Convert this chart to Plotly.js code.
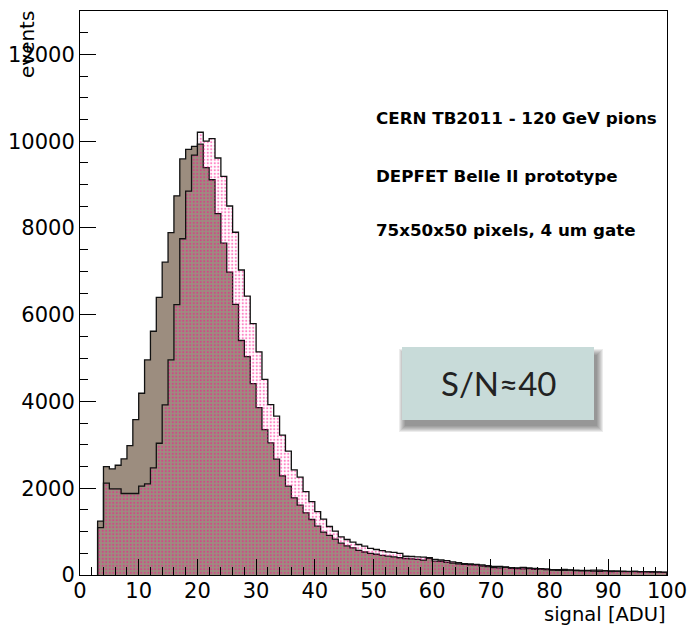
<!DOCTYPE html>
<html>
<head>
<meta charset="utf-8">
<script src="https://cdn.plot.ly/plotly-3.0.1.min.js"></script>
<style>
  html, body { margin: 0; padding: 0; background: #ffffff; }
  #chart { width: 689px; height: 627px; }
</style>
</head>
<body>
<div id="chart"></div>
<script>
// Histogram binning: 1 ADU wide bins, first bin starts at 3 ADU, last ends at 100 ADU
const binStart = 3;
const binWidth = 1;

// Grey-brown filled histogram (bins 3..99)
const filledCounts = [
  1240, 2500, 2446, 2530, 2676, 2983, 3583, 4189, 4957, 5618,
  6401, 7210, 7890, 8740, 9590, 9810, 9880, 9930, 9390, 9110,
  8330, 7650, 6980, 6240, 5405, 5035, 4410, 3860, 3352, 3045,
  2670, 2285, 2047, 1778, 1612, 1432, 1279, 1125, 990, 915,
  826, 734, 672, 626, 568, 530, 500, 478, 453, 434,
  418, 398, 380, 372, 362, 345, 398, 322, 312, 292,
  276, 258, 244, 236, 226, 205, 192, 172, 162, 178,
  156, 150, 142, 147, 132, 136, 126, 115, 110, 106,
  112, 100, 96, 101, 91, 86, 95, 81, 86, 78,
  76, 81, 72, 70, 68, 66, 60
];

// Magenta dotted histogram (bins 3..99)
const dottedCounts = [
  1090, 2116, 1985, 1985, 1878, 1878, 1878, 2047, 2100, 2469,
  3037, 3921, 4957, 6232, 7750, 8848, 9680, 10205, 10000, 10060,
  9612, 9190, 8505, 7900, 7030, 6430, 5795, 5145, 4510, 3928,
  3660, 3225, 2853, 2423, 2258, 1924, 1693, 1462, 1290, 1118,
  1010, 879, 818, 756, 703, 664, 615, 588, 560, 534,
  520, 498, 432, 426, 420, 412, 392, 362, 346, 331,
  302, 282, 262, 256, 246, 230, 214, 201, 198, 186,
  171, 166, 176, 161, 151, 149, 141, 126, 121, 131,
  116, 111, 108, 104, 111, 114, 100, 94, 90, 88,
  85, 84, 80, 78, 75, 70, 65
];

// Axis tick values
const xTicks = [0, 10, 20, 30, 40, 50, 60, 70, 80, 90, 100];
const yTicks = [0, 2000, 4000, 6000, 8000, 10000, 12000];

// Text drawn on the canvas
const infoLines = [
  'CERN TB2011 - 120 GeV pions',
  'DEPFET Belle II prototype',
  '75x50x50 pixels, 4 um gate'
];
const snLabel = 'S/N\u224840';

// Figure geometry
const W = 689, H = 627;
const M = { l: 80, r: 22, t: 11, b: 52 };
const plotW = W - M.l - M.r, plotH = H - M.t - M.b;
const px = v => (v - M.l) / plotW;           // pixel x -> paper x
const py = v => (H - M.b - v) / plotH;       // pixel y -> paper y

// Build a closed step outline (ROOT "hist" style) from bin contents
function stepOutline(counts) {
  const x = [binStart], y = [0];
  counts.forEach((c, i) => { x.push(binStart + i * binWidth); y.push(c); });
  x.push(binStart + counts.length * binWidth); y.push(0);
  return { x, y };
}

const sFilled = stepOutline(filledCounts);
const sDotted = stepOutline(dottedCounts);

const traces = [
  {
    type: 'scatter', mode: 'lines',
    x: sFilled.x, y: sFilled.y,
    line: { shape: 'hv', color: '#111111', width: 1.3 },
    fill: 'tozeroy', fillcolor: '#9c8d7f',
    hoverinfo: 'skip', showlegend: false
  },
  {
    type: 'scatter', mode: 'lines',
    x: sDotted.x, y: sDotted.y,
    line: { shape: 'hv', color: '#111111', width: 1.3 },
    fill: 'tozeroy', fillcolor: 'rgba(0,0,0,0)',
    fillpattern: {
      shape: '.', fgcolor: '#ff0a8c', bgcolor: 'rgba(0,0,0,0)',
      size: 3.5, solidity: 0.32, fillmode: 'overlay'
    },
    hoverinfo: 'skip', showlegend: false
  }
];

const sansFamily = 'DejaVu Sans, Liberation Sans, Arial, sans-serif';
const tickFont = { family: sansFamily, size: 21, color: '#000000' };
const titleFont = { family: sansFamily, size: 19.5, color: '#000000' };

// Soft drop shadow for the S/N box, built from stacked translucent rectangles
const box = { x0: 402, x1: 594, y0: 347, y1: 420 };
const shapes = [];
const shOff = { dx: 3, dy: 6 };
for (let k = 6; k >= 0; k--) {
  shapes.push({
    type: 'rect', xref: 'paper', yref: 'paper', layer: 'above',
    x0: px(box.x0 + shOff.dx - k), x1: px(box.x1 + shOff.dx + k),
    y0: py(box.y1 + shOff.dy + k), y1: py(box.y0 + shOff.dy + 2 - k),
    fillcolor: '#2a2a2a', opacity: 0.09, line: { width: 0 }
  });
}
shapes.push({
  type: 'rect', xref: 'paper', yref: 'paper', layer: 'above',
  x0: px(box.x0), x1: px(box.x1), y0: py(box.y1), y1: py(box.y0),
  fillcolor: '#c8dbd9', line: { width: 0 }
});

const annotations = [
  {
    text: 'events', xref: 'paper', yref: 'paper',
    x: px(27), y: py(45), xanchor: 'center', yanchor: 'middle',
    textangle: -90, showarrow: false,
    font: { family: sansFamily, size: 20, color: '#000000' }
  },
  {
    text: 'signal [ADU]', xref: 'paper', yref: 'paper',
    x: 1, y: py(627), xanchor: 'right', yanchor: 'bottom', borderpad: 0,
    showarrow: false, font: titleFont
  },
  {
    text: snLabel, xref: 'paper', yref: 'paper',
    x: px((box.x0 + box.x1) / 2), y: py((box.y0 + box.y1) / 2),
    xanchor: 'center', yanchor: 'middle', showarrow: false,
    font: { family: 'Lato, Open Sans, sans-serif', size: 33, color: '#222222' }
  }
];
const infoY = [118, 176, 230];
infoLines.forEach((t, i) => annotations.push({
  text: '<b>' + t + '</b>', xref: 'paper', yref: 'paper',
  x: px(374), y: py(infoY[i]), xanchor: 'left', yanchor: 'middle',
  showarrow: false,
  font: { family: sansFamily, size: 16.7, color: '#000000' }
}));

const layout = {
  width: W, height: H,
  margin: M,
  paper_bgcolor: '#ffffff', plot_bgcolor: '#ffffff',
  showlegend: false,
  xaxis: {
    range: [0, 100], tickmode: 'array', tickvals: xTicks,
    ticktext: xTicks.map(String),
    showline: true, mirror: true, linecolor: '#000000', linewidth: 1,
    ticks: 'inside', ticklen: 16, tickwidth: 1, tickcolor: '#000000',
    ticklabelstandoff: -3,
    minor: { ticks: 'inside', ticklen: 8, dtick: 2, tick0: 0, tickwidth: 1, tickcolor: '#000000', showgrid: false },
    showgrid: false, zeroline: false, tickfont: tickFont, fixedrange: true
  },
  yaxis: {
    range: [0, 13000], tickmode: 'array', tickvals: yTicks,
    ticktext: yTicks.map(String),
    showline: true, mirror: true, linecolor: '#000000', linewidth: 1,
    ticks: 'inside', ticklen: 16, tickwidth: 1, tickcolor: '#000000',
    minor: { ticks: 'inside', ticklen: 8, dtick: 500, tick0: 0, tickwidth: 1, tickcolor: '#000000', showgrid: false },
    showgrid: false, zeroline: false, tickfont: tickFont, fixedrange: true
  },
  shapes: shapes,
  annotations: annotations
};

Plotly.newPlot('chart', traces, layout, { staticPlot: true, displayModeBar: false });
</script>
</body>
</html>
